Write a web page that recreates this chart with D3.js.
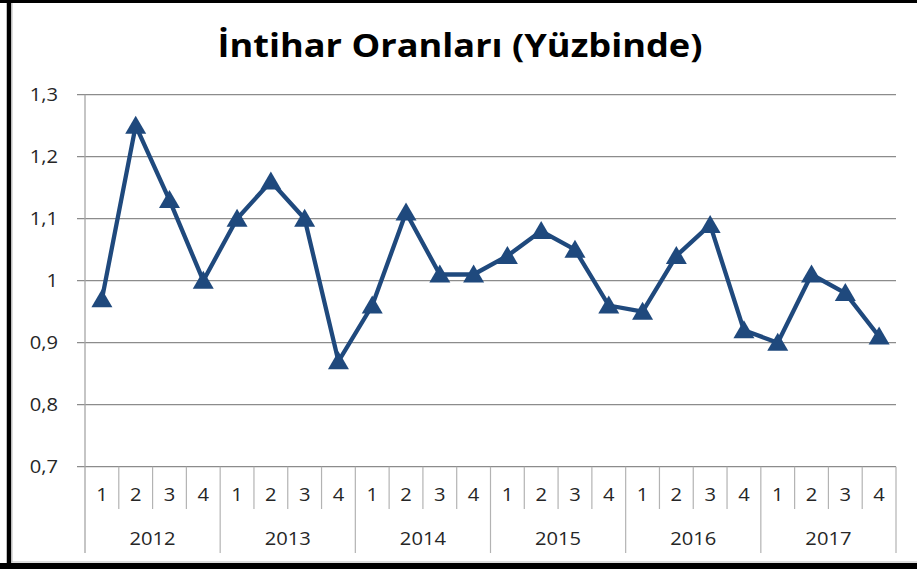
<!DOCTYPE html>
<html><head><meta charset="utf-8">
<script src="https://cdn.jsdelivr.net/npm/d3@7"></script>
<style>body{margin:0;background:#fff}svg{display:block}</style>
</head><body>
<script>
const years = ["2012","2013","2014","2015","2016","2017"];
const quarters = ["1","2","3","4"];
const values = [0.97,1.25,1.13,1.00, 1.10,1.16,1.10,0.87, 0.96,1.11,1.01,1.01, 1.04,1.08,1.05,0.96, 0.95,1.04,1.09,0.92, 0.90,1.01,0.98,0.91];
const yTicks = [0.7,0.8,0.9,1.0,1.1,1.2,1.3];
const title = "İntihar Oranları (Yüzbinde)";

const W = 917, H = 569;
const pL = 85, pR = 896, pT = 94.7, pB = 466.7;
const svg = d3.select("body").append("svg").attr("width", W).attr("height", H);

const cats = [];
years.forEach(yr => quarters.forEach(q => cats.push(yr + "-" + q)));
const x = d3.scaleBand().domain(cats).range([pL, pR]);
const y = d3.scaleLinear().domain([0.7, 1.3]).range([pB, pT]);
const fmt = v => d3.format(".1f")(v).replace(".", ",").replace(",0", "");

const FS = 18, SX = 1.12, FC = "#262626", FF = "Open Sans, sans-serif";

// gridlines
svg.append("g").selectAll("line").data(yTicks).join("line")
  .attr("x1", pL - 8).attr("x2", pR).attr("y1", d => y(d)).attr("y2", d => y(d))
  .attr("stroke", "#8c8c8c").attr("stroke-width", 1.2);
// y labels
svg.append("g").selectAll("text").data(yTicks).join("text")
  .attr("transform", d => `translate(58,${y(d)}) scale(${SX},1)`).attr("dy", "0.36em").attr("text-anchor", "end")
  .attr("font-family", FF).attr("font-size", FS).attr("fill", FC)
  .text(fmt);
// vertical axis
svg.append("line").attr("x1", pL).attr("x2", pL).attr("y1", pT).attr("y2", 553)
  .attr("stroke", "#a6a6a6").attr("stroke-width", 1.3);

// category separators
const qsep = cats.map((c, i) => ({x: x(c), year: i % 4 === 0}));
qsep.push({x: pR, year: true});
svg.append("g").selectAll("line").data(qsep.filter(d => d.x !== pL)).join("line")
  .attr("x1", d => d.x).attr("x2", d => d.x).attr("y1", pB)
  .attr("y2", d => d.year ? 553 : 509)
  .attr("stroke", "#b3b3b3").attr("stroke-width", 1.2);
// quarter labels
svg.append("g").selectAll("text").data(cats).join("text")
  .attr("transform", d => `translate(${x(d) + x.bandwidth() / 2},495) scale(${SX},1)`).attr("dy", "0.36em")
  .attr("text-anchor", "middle").attr("font-family", FF)
  .attr("font-size", FS).attr("fill", FC).text(d => d.split("-")[1]);
// year labels
svg.append("g").selectAll("text").data(years).join("text")
  .attr("transform", d => `translate(${(x(d + "-1") + x(d + "-4") + x.bandwidth()) / 2},539) scale(${SX},1)`).attr("dy", "0.36em")
  .attr("text-anchor", "middle").attr("font-family", FF)
  .attr("font-size", FS).attr("fill", FC).text(d => d);

// line
const pts = cats.map((c, i) => [x(c) + x.bandwidth() / 2, y(values[i])]);
svg.append("path").attr("d", d3.line()(pts)).attr("fill", "none")
  .attr("stroke", "#1f497d").attr("stroke-width", 4.3).attr("stroke-linejoin", "round");
svg.append("g").selectAll("path").data(pts).join("path")
  .attr("d", d => `M${d[0]},${d[1] - 10}L${d[0] + 10.5},${d[1] + 8}L${d[0] - 10.5},${d[1] + 8}Z`)
  .attr("fill", "#1f497d");

// title
svg.append("text").attr("x", 460).attr("y", 57).attr("text-anchor", "middle")
  .attr("font-family", FF).attr("font-weight", "bold").attr("font-size", 32)
  .attr("textLength", 485).attr("lengthAdjust", "spacingAndGlyphs").attr("fill", "#000")
  .text(title);

// frame
svg.append("line").attr("x1", 0).attr("x2", W).attr("y1", 1.5).attr("y2", 1.5).attr("stroke", "#000").attr("stroke-width", 3);
svg.append("line").attr("x1", 9).attr("x2", 9).attr("y1", 0).attr("y2", H).attr("stroke", "#000").attr("stroke-width", 4.5);
svg.append("line").attr("x1", 0).attr("x2", W).attr("y1", 566).attr("y2", 566).attr("stroke", "#000").attr("stroke-width", 6);
svg.append("line").attr("x1", 12).attr("x2", 12).attr("y1", 3).attr("y2", 562).attr("stroke", "#bbb").attr("stroke-width", 1);
svg.append("line").attr("x1", 12).attr("x2", W).attr("y1", 562).attr("y2", 562).attr("stroke", "#bbb").attr("stroke-width", 1);
</script>
</body></html>
